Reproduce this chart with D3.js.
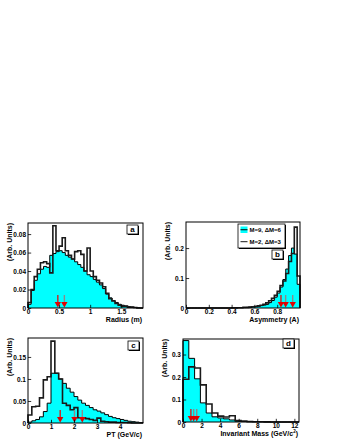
<!DOCTYPE html>
<html>
<head>
<meta charset="utf-8">
<script src="https://cdn.jsdelivr.net/npm/d3@7"></script>
<style>
body{margin:0;background:#fff}
svg{display:block}
text{font-family:"Liberation Sans",Arial,sans-serif;font-weight:bold}
</style>
</head>
<body>
<svg id="chart" width="340" height="440"></svg>
<script>
// ---- data ----

// a: radius, bins of 0.05 from 0
var radiusBinWidth = 0.05;
var radiusFilled = [0.004,0.019,0.030,0.037,0.042,0.045,0.044,0.057,0.059,0.061,0.062,0.060,0.057,0.055,0.053,0.050,0.047,0.044,0.040,0.036,0.034,0.031,0.028,0.025,0.021,0.015,0.011,0.008,0.006,0.004,0.003,0.002,0.0015,0.001,0.0005,0.0002,0];
var radiusOpen = [0.006,0.020,0.034,0.042,0.049,0.050,0.048,0.038,0.089,0.062,0.067,0.076,0.062,0.057,0.053,0.061,0.062,0.058,0.040,0.065,0.040,0.034,0.030,0.027,0.023,0.016,0.010,0.0075,0.005,0.003,0.002,0.002,0.001,0.001,0.0005,0,0];
var radiusCuts = [0.48, 0.585];
var radiusXTicks = [0, 0.5, 1, 1.5];
var radiusXLabels = ["0", "0.5", "1", "1.5"];
var radiusYTicks = [0, 0.02, 0.04, 0.06, 0.08];
var radiusYLabels = ["0", "0.02", "0.04", "0.06", "0.08"];

// b: asymmetry, bins of 0.025 from 0
var asymBinWidth = 0.025;
var asymFilled = [0,0,0,0,0,0,0,0,0,0,0,0,0,0,0,0,0.0005,0.0005,0.001,0.001,0.0015,0.002,0.003,0.004,0.005,0.006,0.008,0.010,0.012,0.018,0.025,0.036,0.050,0.070,0.095,0.130,0.175,0.200,0.180,0.079];
var asymOpen = [0,0,0,0,0,0,0,0,0,0,0,0,0,0,0,0,0.0005,0.0005,0.001,0.001,0.002,0.002,0.003,0.004,0.005,0.007,0.009,0.012,0.017,0.024,0.032,0.042,0.056,0.075,0.090,0.115,0.155,0.182,0.270,0.107];
var asymCuts = [0.833, 0.874, 0.936];
var asymXTicks = [0, 0.2, 0.4, 0.6, 0.8];
var asymXLabels = ["0", "0.2", "0.4", "0.6", "0.8"];
var asymYTicks = [0, 0.1, 0.2];
var asymYLabels = ["0", "0.1", "0.2"];

// c: transverse momentum, bins of 1/6 GeV/c from 0
var ptBinWidth = 1 / 6;
var ptFilled = [0.002,0.005,0.008,0.014,0.026,0.045,0.113,0.113,0.100,0.090,0.079,0.070,0.060,0.052,0.045,0.040,0.035,0.030,0.027,0.023,0.019,0.015,0.012,0.010,0.008,0.006,0.004,0.003,0.002,0.001];
var ptOpen = [0.018,0.037,0.038,0.057,0.098,0.105,0.186,0.113,0.100,0.045,0.040,0.030,0.035,0.012,0.012,0.010,0.008,0.006,0.011,0.004,0.003,0.002,0.002,0.001,0.001,0.001,0.0005,0,0,0];
var ptCuts = [1.4, 2.02, 2.36];
var ptXTicks = [0, 1, 2, 3, 4];
var ptXLabels = ["0", "1", "2", "3", "4"];
var ptYTicks = [0, 0.05, 0.1, 0.15];
var ptYLabels = ["0", "0.05", "0.1", "0.15"];

// d: invariant mass, bins of 0.625 GeV/c2 from 0
var massBinWidth = 0.625;
var massFilled = [0.362,0.283,0.192,0.085,0.040,0.023,0.018,0.014,0.009,0.004,0.002,0.001,0.001,0.0005,0,0,0,0,0,0];
var massOpen = [0.190,0.245,0.240,0.165,0.080,0.040,0.026,0.022,0.028,0.006,0.004,0.002,0.001,0.001,0.0005,0,0,0,0,0];
var massCuts = [0.85, 1.15, 1.48];
var massXTicks = [0, 2, 4, 6, 8, 10, 12];
var massXLabels = ["0", "2", "4", "6", "8", "10", "12"];
var massYTicks = [0, 0.1, 0.2, 0.3];
var massYLabels = ["0", "0.1", "0.2", "0.3"];

var legendLabels = ["M=9, \u0394M=6", "M=2, \u0394M=3"];

// ---- layout ----
var panels = [
  {tag:"a", x0:28, x1:143, y0:223, y1:308, xDomain:[0,1.85], yDomain:[0,0.092],
   bw:radiusBinWidth, filled:radiusFilled, open:radiusOpen, cuts:radiusCuts,
   xt:radiusXTicks, xl:radiusXLabels, yt:radiusYTicks, yl:radiusYLabels, xMinor:0.1, yMinor:0.005,
   title:"Radius (m)", box:[127,225]},
  {tag:"b", x0:186, x1:300, y0:222, y1:308, xDomain:[0,1], yDomain:[0,0.287],
   bw:asymBinWidth, filled:asymFilled, open:asymOpen, cuts:asymCuts,
   xt:asymXTicks, xl:asymXLabels, yt:asymYTicks, yl:asymYLabels, xMinor:0.04, yMinor:0.02,
   title:"Asymmetry (A)", box:[272,250]},
  {tag:"c", x0:28, x1:143, y0:338, y1:423, xDomain:[0,5], yDomain:[0,0.193],
   bw:ptBinWidth, filled:ptFilled, open:ptOpen, cuts:ptCuts,
   xt:ptXTicks, xl:ptXLabels, yt:ptYTicks, yl:ptYLabels, xMinor:0.2, yMinor:0.01,
   title:"PT (GeV/c)", box:[128,341]},
  {tag:"d", x0:183, x1:299, y0:339, y1:422, xDomain:[0,12.5], yDomain:[0,0.369],
   bw:massBinWidth, filled:massFilled, open:massOpen, cuts:massCuts,
   xt:massXTicks, xl:massXLabels, yt:massYTicks, yl:massYLabels, xMinor:0.5, yMinor:0.02,
   title:"Invariant Mass (GeV/c", sup:"2", box:[283,339]}
];

var svg = d3.select("#chart");

// step outline of a histogram
function stepPath(vals, bw, x, y) {
  var pts = [[x(0), y(0)]];
  vals.forEach(function(v, i) {
    pts.push([x(i * bw), y(v)], [x((i + 1) * bw), y(v)]);
  });
  pts.push([x(vals.length * bw), y(0)]);
  return d3.line()(pts);
}

panels.forEach(function(p) {
  var x = d3.scaleLinear().domain(p.xDomain).range([p.x0, p.x1]);
  var y = d3.scaleLinear().domain(p.yDomain).range([p.y1, p.y0]);
  var g = svg.append("g");

  // filled histogram
  g.append("path")
    .attr("d", stepPath(p.filled, p.bw, x, y))
    .attr("fill", "#00ffff")
    .attr("stroke", "#000")
    .attr("stroke-width", 1);

  // open histogram
  g.append("path")
    .attr("d", stepPath(p.open, p.bw, x, y))
    .attr("fill", "none")
    .attr("stroke", "#1a1a1a")
    .attr("stroke-width", 1.6);

  // cut arrows
  p.cuts.forEach(function(c, i) {
    var cx = x(c);
    g.append("line")
      .attr("x1", cx).attr("x2", cx)
      .attr("y1", p.y1 - 13).attr("y2", p.y1 - 5)
      .attr("stroke", i == 0 ? "#d02020" : "#8a8a8a")
      .attr("stroke-width", 1.4);
    g.append("path")
      .attr("d", "M" + (cx - 3.2) + "," + (p.y1 - 6) + "L" + (cx + 3.2) + "," + (p.y1 - 6) + "L" + cx + "," + (p.y1 - 0.5) + "Z")
      .attr("fill", "#e00000");
  });

  // frame
  g.append("rect")
    .attr("x", p.x0).attr("y", p.y0)
    .attr("width", p.x1 - p.x0).attr("height", p.y1 - p.y0)
    .attr("fill", "none").attr("stroke", "#000").attr("stroke-width", 1);

  // axes, ticks pointing inside
  var xMinorTicks = d3.range(p.xDomain[0], p.xDomain[1] + 1e-9, p.xMinor);
  var yMinorTicks = d3.range(p.yDomain[0], p.yDomain[1] + 1e-9, p.yMinor);

  var gx = g.append("g").attr("transform", "translate(0," + p.y1 + ")");
  gx.call(d3.axisBottom(x).tickValues(xMinorTicks).tickSize(-1.6).tickFormat(""));
  gx.call(d3.axisBottom(x).tickValues(p.xt).tickSize(-3.2).tickPadding(1.5)
    .tickFormat(function(d, i) { return p.xl[i]; }));
  gx.selectAll(".domain").remove();

  var gy = g.append("g").attr("transform", "translate(" + p.x0 + ",0)");
  gy.call(d3.axisLeft(y).tickValues(yMinorTicks).tickSize(-1.6).tickFormat(""));
  gy.call(d3.axisLeft(y).tickValues(p.yt).tickSize(-3.2).tickPadding(2)
    .tickFormat(function(d, i) { return p.yl[i]; }));
  gy.selectAll(".domain").remove();

  g.selectAll(".tick line").attr("stroke", "#000").attr("stroke-width", 0.8);
  g.selectAll(".tick text").attr("font-size", 6.5).attr("font-family", "Liberation Sans, Arial, sans-serif").attr("fill", "#000");

  // axis titles
  var xt = g.append("text")
    .attr("x", p.x1 - 1).attr("y", p.y1 + 14)
    .attr("text-anchor", "end").attr("font-size", 7)
    .text(p.title);
  if (p.sup) {
    xt.append("tspan").attr("dy", -3).attr("font-size", 4.5).text(p.sup);
    xt.append("tspan").attr("dy", 3).text(")");
  }
  g.append("text")
    .attr("transform", "translate(" + (p.x0 - 16) + "," + p.y0 + ") rotate(-90)")
    .attr("text-anchor", "end").attr("font-size", 7)
    .text("(Arb. Units)");

  // panel tag box
  g.append("rect").attr("x", p.box[0] + 1).attr("y", p.box[1] + 1)
    .attr("width", 11).attr("height", 9).attr("fill", "#000");
  g.append("rect").attr("x", p.box[0]).attr("y", p.box[1])
    .attr("width", 11).attr("height", 9).attr("fill", "#fff")
    .attr("stroke", "#000").attr("stroke-width", 0.8);
  g.append("text").attr("x", p.box[0] + 5.5).attr("y", p.box[1] + 7)
    .attr("text-anchor", "middle").attr("font-size", 8).text(p.tag);
});

// legend in panel b
var leg = svg.append("g").attr("transform", "translate(238,224)");
leg.append("rect").attr("x", 1).attr("y", 1).attr("width", 47).attr("height", 24).attr("fill", "#000");
leg.append("rect").attr("x", 0).attr("y", 0).attr("width", 47).attr("height", 24)
  .attr("fill", "#fff").attr("stroke", "#000").attr("stroke-width", 0.8);
leg.append("rect").attr("x", 2.5).attr("y", 2.5).attr("width", 7).attr("height", 6.5)
  .attr("fill", "#00ffff");
leg.append("line").attr("x1", 2.5).attr("x2", 9.5).attr("y1", 5.75).attr("y2", 5.75)
  .attr("stroke", "#000").attr("stroke-width", 1);
leg.append("line").attr("x1", 2.5).attr("x2", 9.5).attr("y1", 17.7).attr("y2", 17.7)
  .attr("stroke", "#1a1a1a").attr("stroke-width", 1);
leg.selectAll("text.lab").data(legendLabels).enter().append("text")
  .attr("class", "lab")
  .attr("x", 11.5).attr("y", function(d, i) { return 8 + i * 12; })
  .attr("font-size", 6)
  .text(function(d) { return d; });
</script>
</body>
</html>
